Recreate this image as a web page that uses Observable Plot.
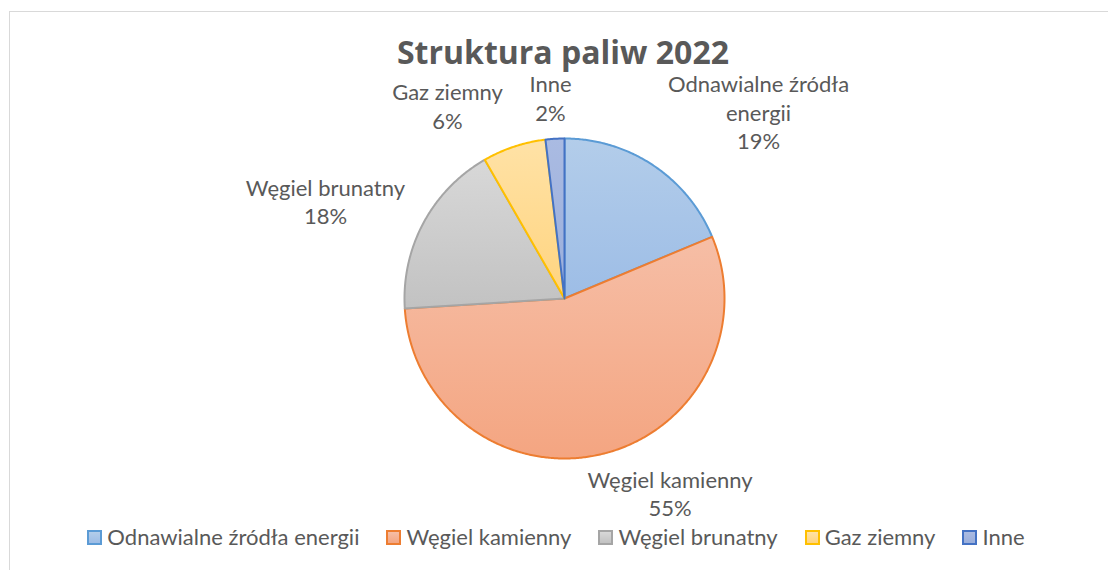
<!DOCTYPE html>
<html>
<head>
<meta charset="utf-8">
<script src="https://cdn.jsdelivr.net/npm/d3@7"></script>
<script src="https://cdn.jsdelivr.net/npm/@observablehq/plot@0.6"></script>
<style>
  html, body { margin: 0; padding: 0; background: #fff; }
  #wrap { position: relative; width: 1108px; height: 570px; overflow: hidden; font-family: Lato, "Noto Sans", sans-serif; color: #595959; }
  #frame { position: absolute; left: 9px; top: 11px; width: 1300px; height: 800px; border: 1.5px solid #d9d9d9; pointer-events: none; }
  #title { position: absolute; left: 0; top: 0; width: 1108px; height: 70px; box-sizing: border-box; padding-left: 18px; padding-top: 34px; text-align: center; font-family: "Open Sans", Lato, sans-serif; font-weight: bold; font-size: 32px; line-height: 36px; color: #595959; }
  #chart { position: absolute; left: 0; top: 70px; }
  #legend { position: absolute; left: 0; top: 523px; width: 1108px; height: 28px; box-sizing: border-box; padding-left: 4px; display: flex; align-items: center; justify-content: center; gap: 27px; font-size: 22px; line-height: 28px; color: #595959; }
  .item { display: flex; align-items: center; gap: 5px; white-space: nowrap; height: 28px; }
  .sw { width: 11px; height: 11px; border: 2px solid; }
</style>
</head>
<body>
<div id="wrap">
  <div id="frame"></div>
  <div id="title"></div>
  <div id="chart"></div>
  <div id="legend"></div>
</div>
<script>
// ---- data ----
const title = "Struktura paliw 2022";
const categories = ["Odnawialne źródła energii", "Węgiel kamienny", "Węgiel brunatny", "Gaz ziemny", "Inne"];
const values = [18.7, 55.3, 17.7, 6.4, 1.9];
const labelNames = ["Odnawialne źródła\nenergii", "Węgiel kamienny", "Węgiel brunatny", "Gaz ziemny", "Inne"];

// ---- styles ----
const strokeColors = ["#5b9bd5", "#ed7d31", "#a5a5a5", "#ffc000", "#4472c4"];
const gradTop = ["#b3cdea", "#f6bea6", "#d8d8d8", "#ffe2a6", "#aabbe2"];
const gradBottom = ["#9dbde6", "#f4a581", "#c2c2c2", "#ffd47f", "#9aaedb"];
// label anchor positions in pie-radius units (layout)
const labelX = [1.2125, 0.66, -1.494, -0.731, -0.0875];
const labelY = [1.168, -1.215, 0.61, 1.206, 1.256];

// ---- geometry from data ----
const total = d3.sum(values);
const slices = [];
let acc = 0;
values.forEach((v, i) => {
  const a0 = acc / total * 2 * Math.PI;
  acc += v;
  const a1 = acc / total * 2 * Math.PI;
  const n = Math.max(2, Math.ceil((a1 - a0) / (Math.PI / 360)));
  const pts = [{cat: categories[i], x: 0, y: 0}];
  for (let k = 0; k <= n; k++) {
    const a = a0 + (a1 - a0) * k / n;
    pts.push({cat: categories[i], x: Math.sin(a), y: Math.cos(a)});
  }
  slices.push(pts);
});

const labels = categories.map((c, i) => ({
  text: labelNames[i] + "\n" + Math.round(values[i] / total * 100) + "%",
  x: labelX[i], y: labelY[i]
}));

const chart = Plot.plot({
  width: 1108,
  height: 460,
  margin: 0,
  x: {domain: [-1, 1], range: [404, 724], axis: null},
  y: {domain: [-1, 1], range: [388, 68], axis: null},
  style: {background: "transparent", fontFamily: "Lato, 'Noto Sans', sans-serif"},
  marks: [
    ...slices.map((pts, i) => Plot.line(pts, {
      x: "x", y: "y", curve: "linear-closed",
      fill: `url(#grad${i})`, stroke: strokeColors[i], strokeWidth: 2, strokeLinejoin: "round"
    })),
    Plot.text(labels, {
      x: "x", y: "y", text: "text",
      fontSize: 22, lineHeight: 1.3, fill: "#595959", textAnchor: "middle", lineAnchor: "middle"
    })
  ]
});

// gradient definitions
const ns = "http://www.w3.org/2000/svg";
const defs = document.createElementNS(ns, "defs");
categories.forEach((c, i) => {
  const g = document.createElementNS(ns, "linearGradient");
  g.setAttribute("id", "grad" + i);
  g.setAttribute("x1", "0"); g.setAttribute("y1", "0");
  g.setAttribute("x2", "0"); g.setAttribute("y2", "1");
  [[0, gradTop[i]], [1, gradBottom[i]]].forEach(([o, col]) => {
    const s = document.createElementNS(ns, "stop");
    s.setAttribute("offset", o);
    s.setAttribute("stop-color", col);
    g.appendChild(s);
  });
  defs.appendChild(g);
});
chart.insertBefore(defs, chart.firstChild);
document.getElementById("chart").appendChild(chart);

document.getElementById("title").textContent = title;

const legend = document.getElementById("legend");
categories.forEach((c, i) => {
  const item = document.createElement("div");
  item.className = "item";
  const sw = document.createElement("div");
  sw.className = "sw";
  sw.style.borderColor = strokeColors[i];
  sw.style.background = `linear-gradient(${gradTop[i]}, ${gradBottom[i]})`;
  const t = document.createElement("span");
  t.textContent = c;
  item.appendChild(sw);
  item.appendChild(t);
  legend.appendChild(item);
});
</script>
</body>
</html>
